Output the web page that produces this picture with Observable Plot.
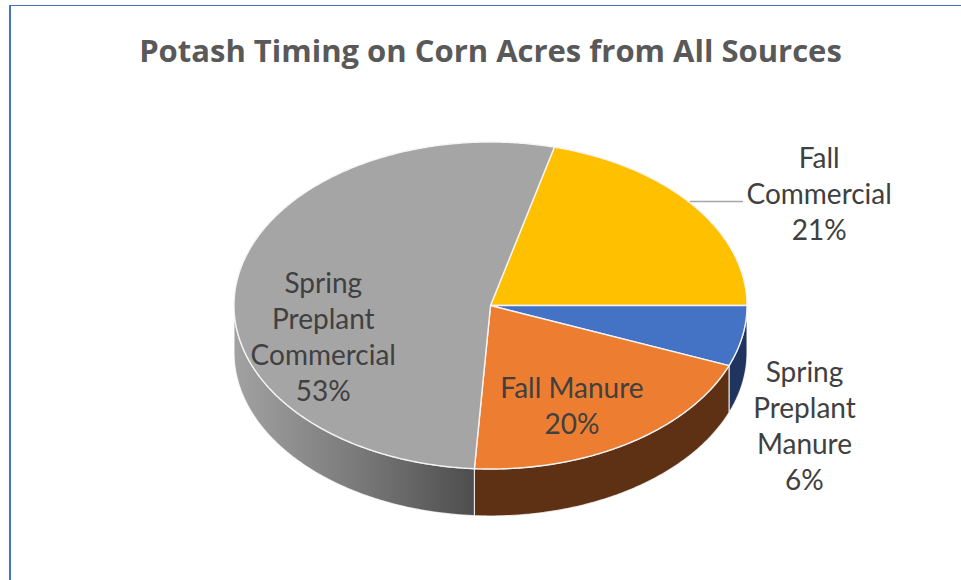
<!DOCTYPE html>
<html>
<head>
<meta charset="utf-8">
<script src="https://cdn.jsdelivr.net/npm/d3@7"></script>
<script src="https://cdn.jsdelivr.net/npm/@observablehq/plot@0.6"></script>
<style>
  html, body { margin: 0; padding: 0; background: #ffffff; }
  #wrap { position: relative; width: 961px; height: 580px; overflow: hidden; font-family: Lato, "Open Sans", sans-serif; }
  #frame { position: absolute; left: 9px; top: 5px; right: -5px; bottom: -5px; border-left: 2px solid #4472C4; border-top: 1.5px solid #4472C4; pointer-events: none; }
  #title { position: absolute; left: 20px; top: 0; width: 941px; height: 100px; line-height: 100px; text-align: center; font-family: "Open Sans", Lato, sans-serif; font-weight: bold; font-size: 31px; color: #595959; white-space: nowrap; }
  #chart { position: absolute; left: 0; top: 100px; }
</style>
</head>
<body>
<div id="wrap">
  <div id="title">Potash Timing on Corn Acres from All Sources</div>
  <div id="chart"></div>
  <div id="frame"></div>
</div>
<script>
// ---- data ----
const categories = ["Fall Commercial", "Spring Preplant Manure", "Fall Manure", "Spring Preplant Commercial"];
const shares = [21, 6, 20, 53];
const labelNames = ["Fall\nCommercial", "Spring\nPreplant\nManure", "Fall Manure", "Spring\nPreplant\nCommercial"];
const topColors = ["#FFC000", "#4472C4", "#ED7D31", "#A5A5A5"];
const sideColors = ["#7F6000", "#1F3560", "#5F3114", "url(#graySide)"];

// ---- layout (pie geometry) ----
const W = 961, H = 480;
const cx = 490, cy = 205, rx = 256.5, ry = 163.5, depth = 47;
const startDeg = -75.6;
// label placement: polar factor + nudge relative to slice mid-angle
const labelLayout = [
  {r: 1.0, dx: 126, dy: -13, leader: true},
  {r: 1.0, dx: 62, dy: 88},
  {r: 0.6, dx: -1, dy: 16},
  {r: 0.66, dx: 0, dy: 47}
];

const rad = d => d * Math.PI / 180;
const pt = (deg, f = 1, dz = 0) => ({x: cx + rx * f * Math.cos(rad(deg)), y: cy + ry * f * Math.sin(rad(deg)) + dz});

const total = d3.sum(shares);
let acc = startDeg;
const slices = shares.map((v, i) => {
  const a0 = acc, a1 = acc + v / total * 360;
  acc = a1;
  return {i, a0, a1, mid: (a0 + a1) / 2};
});

const arc = (a0, a1, dz = 0) => {
  const n = Math.max(2, Math.ceil((a1 - a0) / 0.5));
  return d3.range(n + 1).map(k => pt(a0 + (a1 - a0) * k / n, 1, dz));
};

// top faces
const topPts = [];
slices.forEach(s => {
  const c = {x: cx, y: cy};
  [c, ...arc(s.a0, s.a1), c].forEach(p => topPts.push({...p, id: "t" + s.i, fill: topColors[s.i]}));
});

// side walls (visible front half: 0..180 deg)
const sidePts = [];
slices.forEach(s => {
  const lo = Math.max(s.a0, 0), hi = Math.min(s.a1, 180);
  if (hi <= lo) return;
  const upper = arc(lo, hi, 0);
  const lower = arc(lo, hi, depth).reverse();
  [...upper, ...lower, upper[0]].forEach(p => sidePts.push({...p, id: "s" + s.i, fill: sideColors[s.i]}));
});

// labels
const labels = slices.map(s => {
  const L = labelLayout[s.i];
  const p = pt(s.mid, L.r);
  return {x: p.x + L.dx, y: p.y + L.dy, text: labelNames[s.i] + "\n" + shares[s.i] + "%"};
});
const leaderPts = [];
slices.forEach(s => {
  if (!labelLayout[s.i].leader) return;
  const sy = cy - 104;
  const t = Math.asin((sy - cy) / ry) * 180 / Math.PI;
  const p = pt(t);
  leaderPts.push({x: p.x + 2, y: p.y}, {x: p.x + 54, y: p.y});
});

const plot = Plot.plot({
  width: W, height: H, margin: 0,
  x: {domain: [0, W], range: [0, W], axis: null},
  y: {domain: [0, H], range: [0, H], axis: null},
  color: {type: "identity"},
  marks: [
    Plot.line(sidePts, {x: "x", y: "y", z: "id", fill: "fill", stroke: "#ffffff", strokeOpacity: 0.75, strokeWidth: 1.2}),
    Plot.line(topPts, {x: "x", y: "y", z: "id", fill: "fill", stroke: "#f4f4f4", strokeWidth: 1.4, strokeLinejoin: "round"}),
    Plot.line(leaderPts, {x: "x", y: "y", stroke: "#A6A6A6", strokeWidth: 1.3}),
    Plot.text(labels, {x: "x", y: "y", text: "text", fontSize: 28, lineHeight: 1.29, fill: "#404040", fontFamily: "Lato, 'Open Sans', sans-serif", textAnchor: "middle"})
  ]
});

d3.select(plot).insert("defs", ":first-child").html(
  '<linearGradient id="graySide" gradientUnits="userSpaceOnUse" x1="234" y1="0" x2="478" y2="0">' +
  '<stop offset="0" stop-color="#a2a2a2"/><stop offset="0.5" stop-color="#7a7a7a"/><stop offset="1" stop-color="#4c4c4c"/></linearGradient>'
);
document.getElementById("chart").appendChild(plot);
</script>
</body>
</html>
